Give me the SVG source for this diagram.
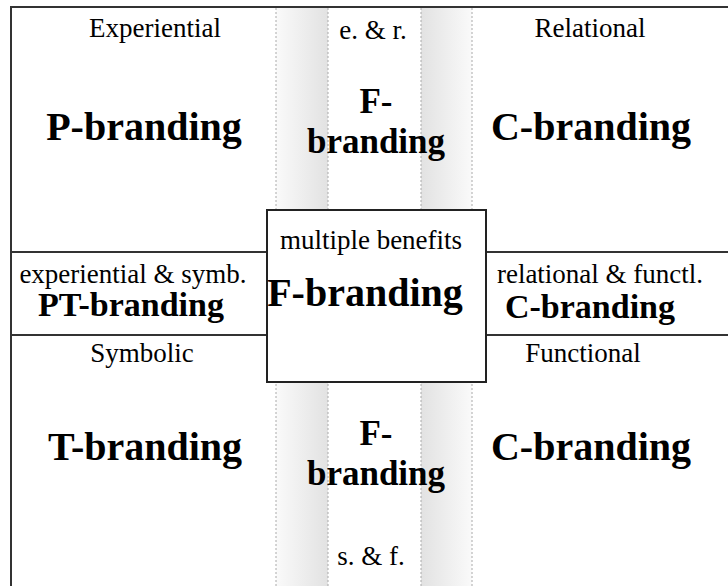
<svg xmlns="http://www.w3.org/2000/svg" width="728" height="586" viewBox="0 0 728 586">
<defs>
<linearGradient id="gL" x1="0" y1="0" x2="1" y2="0">
<stop offset="0" stop-color="#fafafa"/>
<stop offset="1" stop-color="#e2e2e2"/>
</linearGradient>
<linearGradient id="gR" x1="0" y1="0" x2="1" y2="0">
<stop offset="0" stop-color="#e2e2e2"/>
<stop offset="1" stop-color="#fafafa"/>
</linearGradient>
<style>
text{font-family:"Liberation Serif","Times New Roman",serif;fill:#000;text-anchor:middle}
.s{font-size:27px}
.b{font-size:40px;font-weight:bold}
.m{font-size:34px;font-weight:bold}
.f{font-size:35px;font-weight:bold}
.ln{stroke:#333;stroke-width:2;fill:none}
.dot{stroke:#aaa;stroke-width:1;stroke-dasharray:2 2;fill:none}
</style>
</defs>
<rect width="728" height="586" fill="#fff"/>
<g id="strips">
<rect x="276" y="7" width="52" height="579" fill="url(#gL)"/>
<rect x="421" y="7" width="51" height="579" fill="url(#gR)"/>
<line class="dot" x1="276" y1="8" x2="276" y2="586"/>
<line class="dot" x1="328" y1="8" x2="328" y2="586"/>
<line class="dot" x1="421" y1="8" x2="421" y2="586"/>
<line class="dot" x1="472" y1="8" x2="472" y2="586"/>
</g>
<g id="connectors">
<line class="ln" x1="10" y1="7" x2="728" y2="7"/>
<line class="ln" x1="11" y1="6" x2="11" y2="586"/>
<line class="ln" x1="11" y1="252" x2="267" y2="252"/>
<line class="ln" x1="11" y1="335" x2="267" y2="335"/>
<line class="ln" x1="486" y1="252" x2="728" y2="252"/>
<line class="ln" x1="486" y1="335" x2="728" y2="335"/>
</g>
<g id="experiential">
<text class="s" x="155" y="37">Experiential</text>
<text class="b" x="144" y="140">P-branding</text>
</g>
<g id="er">
<text class="s" x="373" y="39">e. &amp; r.</text>
<text class="f" x="376" y="113">F-</text>
<text class="f" x="376" y="153">branding</text>
</g>
<g id="relational">
<text class="s" x="590" y="37">Relational</text>
<text class="b" x="591" y="140">C-branding</text>
</g>
<g id="expsymb">
<text class="s" x="133" y="283">experiential &amp; symb.</text>
<text class="m" x="131" y="316">PT-branding</text>
</g>
<g id="center">
<rect x="267" y="210" width="219" height="172" fill="#fff" stroke="#222" stroke-width="2"/>
<text class="s" x="371" y="249">multiple benefits</text>
<text class="b" x="365" y="306">F-branding</text>
</g>
<g id="relfunc">
<text class="s" x="600" y="283">relational &amp; functl.</text>
<text class="m" x="590" y="318">C-branding</text>
</g>
<g id="symbolic">
<text class="s" x="142" y="362">Symbolic</text>
<text class="b" x="145" y="460">T-branding</text>
</g>
<g id="sf">
<text class="f" x="376" y="445">F-</text>
<text class="f" x="376" y="485">branding</text>
<text class="s" x="371" y="565">s. &amp; f.</text>
</g>
<g id="functional">
<text class="s" x="583" y="362">Functional</text>
<text class="b" x="591" y="460">C-branding</text>
</g>
</svg>
